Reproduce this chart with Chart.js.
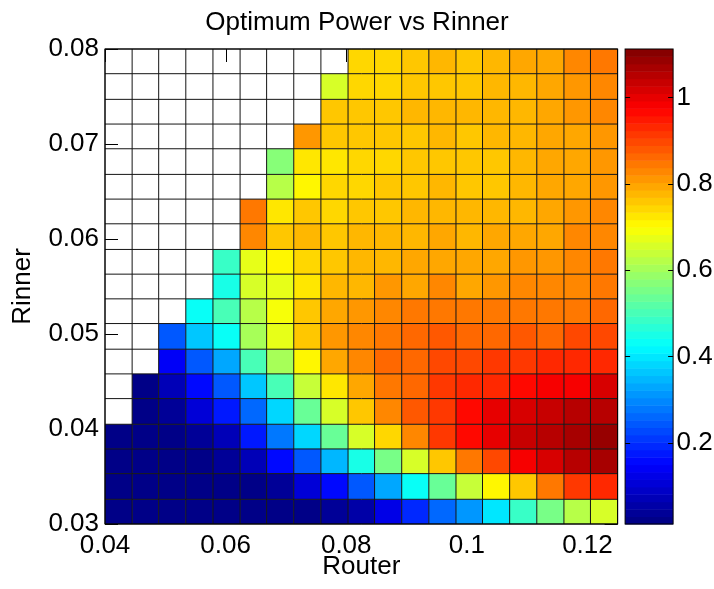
<!DOCTYPE html>
<html>
<head>
<meta charset="utf-8">
<title>Optimum Power vs Rinner</title>
<script src="https://cdn.jsdelivr.net/npm/chart.js@4.4.1/dist/chart.umd.min.js"></script>
<style>
    html, body { margin: 0; padding: 0; background: #fff; }
    #wrap { width: 714px; height: 589px; }
</style>
</head>
<body>
<div id="wrap"><canvas id="power_map" width="714" height="589"></canvas></div>
<script>
// grid points of the surface (20 x 20 points -> 19 x 19 cells)
var router = [0.0400, 0.0445, 0.0489, 0.0534, 0.0579, 0.0624, 0.0668, 0.0713, 0.0758, 0.0803,
              0.0847, 0.0892, 0.0937, 0.0982, 0.1026, 0.1071, 0.1116, 0.1161, 0.1205, 0.1250];
var rinner = [0.0300, 0.0326, 0.0353, 0.0379, 0.0405, 0.0432, 0.0458, 0.0484, 0.0511, 0.0537,
              0.0563, 0.0589, 0.0616, 0.0642, 0.0668, 0.0695, 0.0721, 0.0747, 0.0774, 0.0800];

// optimum power per cell, one row per Rinner step starting at 0.03 (null = no solution)
var power = [
    [0.015, 0.015, 0.015, 0.015, 0.015, 0.015, 0.015, 0.02, 0.03, 0.06, 0.12, 0.19, 0.26, 0.32, 0.40, 0.48, 0.55, 0.62, 0.665],
    [0.015, 0.015, 0.015, 0.02, 0.02, 0.025, 0.04, 0.10, 0.16, 0.25, 0.33, 0.425, 0.54, 0.64, 0.70, 0.765, 0.84, 0.91, 0.94],
    [0.015, 0.015, 0.02, 0.02, 0.03, 0.07, 0.15, 0.25, 0.34, 0.45, 0.56, 0.665, 0.765, 0.84, 0.895, 0.975, 1.01, 1.06, 1.07],
    [0.015, 0.02, 0.02, 0.03, 0.08, 0.18, 0.28, 0.38, 0.54, 0.65, 0.74, 0.82, 0.91, 0.96, 1.00, 1.04, 1.06, 1.07, 1.08],
    [null, 0.02, 0.03, 0.10, 0.17, 0.26, 0.38, 0.54, 0.65, 0.755, 0.82, 0.88, 0.92, 0.96, 0.995, 1.02, 1.04, 1.05, 1.05],
    [null, 0.02, 0.07, 0.16, 0.25, 0.37, 0.50, 0.64, 0.725, 0.79, 0.84, 0.87, 0.91, 0.925, 0.94, 0.96, 0.975, 0.98, 1.01],
    [null, null, 0.145, 0.25, 0.33, 0.50, 0.60, 0.70, 0.79, 0.82, 0.855, 0.87, 0.895, 0.895, 0.91, 0.91, 0.925, 0.94, 0.94],
    [null, null, 0.24, 0.36, 0.43, 0.60, 0.67, 0.765, 0.81, 0.82, 0.84, 0.855, 0.88, 0.86, 0.87, 0.88, 0.87, 0.895, 0.895],
    [null, null, null, 0.43, 0.50, 0.63, 0.69, 0.755, 0.79, 0.81, 0.82, 0.84, 0.85, 0.84, 0.84, 0.85, 0.85, 0.84, 0.87],
    [null, null, null, null, 0.45, 0.65, 0.68, 0.73, 0.775, 0.785, 0.81, 0.80, 0.82, 0.80, 0.81, 0.82, 0.825, 0.83, 0.85],
    [null, null, null, null, 0.49, 0.67, 0.70, 0.74, 0.765, 0.78, 0.785, 0.79, 0.80, 0.79, 0.80, 0.81, 0.81, 0.83, 0.84],
    [null, null, null, null, null, 0.83, 0.755, 0.775, 0.765, 0.775, 0.775, 0.78, 0.79, 0.78, 0.79, 0.80, 0.80, 0.825, 0.83],
    [null, null, null, null, null, 0.85, 0.72, 0.755, 0.75, 0.76, 0.76, 0.775, 0.78, 0.77, 0.78, 0.785, 0.80, 0.815, 0.82],
    [null, null, null, null, null, null, 0.62, 0.71, 0.74, 0.75, 0.755, 0.765, 0.775, 0.765, 0.765, 0.78, 0.795, 0.80, 0.81],
    [null, null, null, null, null, null, 0.57, 0.73, 0.73, 0.75, 0.74, 0.755, 0.765, 0.76, 0.765, 0.775, 0.79, 0.80, 0.81],
    [null, null, null, null, null, null, null, 0.81, 0.76, 0.755, 0.755, 0.765, 0.78, 0.765, 0.78, 0.78, 0.795, 0.80, 0.815],
    [null, null, null, null, null, null, null, null, 0.755, 0.76, 0.755, 0.775, 0.78, 0.77, 0.78, 0.78, 0.79, 0.81, 0.82],
    [null, null, null, null, null, null, null, null, 0.665, 0.75, 0.75, 0.755, 0.765, 0.765, 0.775, 0.78, 0.80, 0.81, 0.82],
    [null, null, null, null, null, null, null, null, null, 0.75, 0.75, 0.755, 0.775, 0.765, 0.775, 0.79, 0.79, 0.82, 0.84]
];

var xTickLabels = ["0.04", "0.06", "0.08", "0.1", "0.12"];
var yTickLabels = ["0.03", "0.04", "0.05", "0.06", "0.07", "0.08"];
var cbTickLabels = ["0.2", "0.4", "0.6", "0.8", "1"];
var colorLimits = [0.012, 1.112];

var FONT = "'Liberation Sans', Arial, Helvetica, sans-serif";

// matlab style jet colormap, 64 levels
function jetColor(v) {
    var t = (v - colorLimits[0]) / (colorLimits[1] - colorLimits[0]);
    var k = Math.min(63, Math.max(0, Math.floor(t * 64)));
    t = (k + 0.5) / 64;
    var ch = function(d) {
        return Math.round(255 * Math.min(1, Math.max(0, 1.5 - Math.abs(4 * t - d))));
    };
    return "rgb(" + ch(3) + "," + ch(2) + "," + ch(1) + ")";
}

var cells = [];
for (var i = 0; i < power.length; i++) {
    for (var j = 0; j < power[i].length; j++) {
        cells.push({ x: router[j], y: rinner[i], x2: router[j + 1], y2: rinner[i + 1], v: power[i][j] });
    }
}

function fixedTicks(labels) {
    return function(scale) {
        scale.ticks = labels.map(function(l) { return { value: Number(l) }; });
    };
}
function tickText(labels) {
    return function(value, index) { return labels[index]; };
}
// fixed box size, no extra room for the end labels
function fixedSize(prop, size) {
    return function(scale) {
        scale[prop] = size;
        scale.paddingTop = 0;
        scale.paddingBottom = 0;
        scale.paddingLeft = 0;
        scale.paddingRight = 0;
    };
}

var pcolorPlugin = {
    id: "pcolor",
    beforeDatasetsDraw: function(chart) {
        var ctx = chart.ctx, area = chart.chartArea;
        var xs = chart.scales.x, ys = chart.scales.y;
        var tl = 13;
        ctx.save();
        // inward tick marks, the cells paint over most of them
        ctx.strokeStyle = "#000";
        ctx.lineWidth = 1;
        ctx.beginPath();
        xTickLabels.forEach(function(l) {
            var px = Math.round(xs.getPixelForValue(Number(l))) + 0.5;
            ctx.moveTo(px, area.top); ctx.lineTo(px, area.top + tl);
            ctx.moveTo(px, area.bottom); ctx.lineTo(px, area.bottom - tl);
        });
        yTickLabels.forEach(function(l) {
            var py = Math.round(ys.getPixelForValue(Number(l))) + 0.5;
            ctx.moveTo(area.left, py); ctx.lineTo(area.left + tl, py);
            ctx.moveTo(area.right, py); ctx.lineTo(area.right - tl, py);
        });
        ctx.stroke();

        // cells
        chart.data.datasets[0].data.forEach(function(c) {
            if (c.v === null) return;
            var x0 = xs.getPixelForValue(c.x), x1 = xs.getPixelForValue(c.x2);
            var y0 = ys.getPixelForValue(c.y2), y1 = ys.getPixelForValue(c.y);
            ctx.fillStyle = jetColor(c.v);
            ctx.fillRect(x0, y0, x1 - x0, y1 - y0);
        });

        // cell edges
        ctx.strokeStyle = "#141414";
        ctx.lineWidth = 1;
        ctx.beginPath();
        router.forEach(function(r) {
            var px = xs.getPixelForValue(r);
            ctx.moveTo(px, area.top); ctx.lineTo(px, area.bottom);
        });
        rinner.forEach(function(r) {
            var py = ys.getPixelForValue(r);
            ctx.moveTo(area.left, py); ctx.lineTo(area.right, py);
        });
        ctx.stroke();
        ctx.restore();
    },
    afterDatasetsDraw: function(chart) {
        var ctx = chart.ctx, area = chart.chartArea;
        var cb = chart.scales.cb;
        ctx.save();
        ctx.strokeStyle = "#000";
        ctx.lineWidth = 1;
        ctx.strokeRect(area.left, area.top, area.right - area.left, area.bottom - area.top);

        // colorbar
        var left = area.right + 7.5, w = 48;
        var span = colorLimits[1] - colorLimits[0];
        for (var k = 0; k < 64; k++) {
            var v0 = colorLimits[0] + span * k / 64, v1 = colorLimits[0] + span * (k + 1) / 64;
            var ya = cb.getPixelForValue(v1), yb = cb.getPixelForValue(v0);
            ctx.fillStyle = jetColor((v0 + v1) / 2);
            ctx.fillRect(left, ya, w, yb - ya + 0.5);
        }
        ctx.beginPath();
        cbTickLabels.forEach(function(l) {
            var py = Math.round(cb.getPixelForValue(Number(l))) + 0.5;
            ctx.moveTo(left, py); ctx.lineTo(left + 5, py);
            ctx.moveTo(left + w, py); ctx.lineTo(left + w - 5, py);
        });
        ctx.stroke();
        ctx.strokeRect(left, cb.top, w, cb.bottom - cb.top);
        ctx.restore();
    }
};

new Chart("power_map", {
    type: "scatter",
    data: {
        datasets: [{
            label: "Optimum power",
            data: cells,
            pointRadius: 0,
            pointHoverRadius: 0
        }]
    },
    plugins: [pcolorPlugin],
    options: {
        responsive: false,
        animation: false,
        devicePixelRatio: 1,
        events: [],
        layout: { padding: 0 },
        plugins: {
            legend: { display: false },
            tooltip: { enabled: false },
            title: {
                display: true,
                text: "Optimum Power vs Rinner",
                color: "#000",
                font: { family: FONT, size: 26, weight: "normal" },
                padding: { top: 7, bottom: 10.8 }
            }
        },
        scales: {
            x: {
                type: "linear",
                position: "bottom",
                min: router[0],
                max: router[router.length - 1],
                grid: { display: false, drawTicks: false },
                border: { display: false },
                afterBuildTicks: fixedTicks(xTickLabels),
                afterFit: fixedSize("height", 65),
                ticks: {
                    autoSkip: false,
                    maxRotation: 0,
                    padding: 6,
                    color: "#000",
                    font: { family: FONT, size: 26 },
                    callback: tickText(xTickLabels)
                },
                title: {
                    display: true,
                    text: "Router",
                    color: "#000",
                    font: { family: FONT, size: 26 },
                    padding: { top: 0, bottom: 6.5 }
                }
            },
            y: {
                type: "linear",
                position: "left",
                min: rinner[0],
                max: rinner[rinner.length - 1],
                grid: { display: false, drawTicks: false },
                border: { display: false },
                afterBuildTicks: fixedTicks(yTickLabels),
                afterFit: fixedSize("width", 105),
                ticks: {
                    autoSkip: false,
                    padding: 6,
                    color: "#000",
                    font: { family: FONT, size: 26 },
                    callback: tickText(yTickLabels)
                },
                title: {
                    display: true,
                    text: "Rinner",
                    color: "#000",
                    font: { family: FONT, size: 26 },
                    padding: { top: 7, bottom: 0 }
                }
            },
            cb: {
                type: "linear",
                position: "right",
                min: colorLimits[0],
                max: colorLimits[1],
                grid: { display: false, drawTicks: false },
                border: { display: false },
                afterBuildTicks: fixedTicks(cbTickLabels),
                afterFit: fixedSize("width", 96.4),
                ticks: {
                    autoSkip: false,
                    padding: 59,
                    color: "#000",
                    font: { family: FONT, size: 26 },
                    callback: tickText(cbTickLabels)
                }
            }
        }
    }
});
</script>
</body>
</html>
